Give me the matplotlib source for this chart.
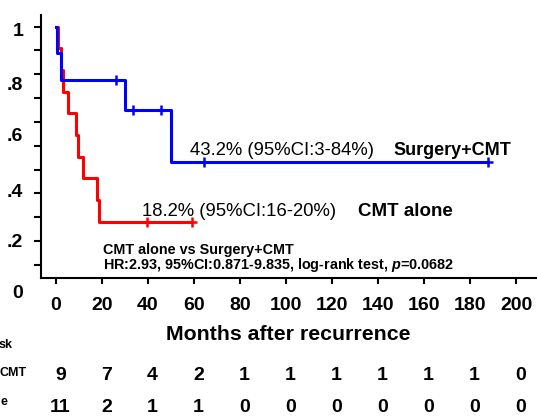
import numpy as np
import matplotlib.pyplot as plt
import matplotlib.transforms as mtransforms

plt.rcParams['font.family'] = 'Liberation Sans'
plt.rcParams['mathtext.fontset'] = 'custom'
plt.rcParams['mathtext.it'] = 'Liberation Sans:italic:bold'
plt.rcParams['mathtext.rm'] = 'Liberation Sans:bold'

# ---------------------------------------------------
# Data (months, 1 = event, 0 = censored)
# ---------------------------------------------------
surg_times = [0.3, 2.2, 26, 30, 33.6, 45.7, 50, 64.3, 187.7]
surg_events = [1, 1, 0, 1, 0, 0, 1, 0, 0]

cmt_times = [1, 2.3, 3.0, 5.3, 8.7, 9.7, 11.9, 18, 18.7, 39.4, 59]
cmt_events = [1, 1, 1, 1, 1, 1, 1, 1, 1, 0, 0]

risk_times = [0, 20, 40, 60, 80, 100, 120, 140, 160, 180, 200]
surg_risk = [9, 7, 4, 2, 1, 1, 1, 1, 1, 1, 0]
cmt_risk = [11, 2, 1, 1, 0, 0, 0, 0, 0, 0, 0]

ytick_vals = ['1', '.8', '.6', '.4', '.2', '0']
ytick_pos = [0.979, 0.755, 0.539, 0.302, 0.094, -0.118]

# row labels of the risk table; only their right ends show in the original
row_labels = ['sk', 'CMT', 'e']


def km_curve(times, events):
    order = np.argsort(times)
    t = np.asarray(times, dtype=float)[order]
    e = np.asarray(events, dtype=float)[order]
    at_risk = len(t) - np.arange(len(t))
    surv = np.cumprod(1 - e / at_risk)
    xs = np.concatenate([[0], t])
    ys = np.concatenate([[1], surv])
    cens = e == 0
    return xs, ys, t[cens], surv[cens]


fig = plt.figure(figsize=(5.37, 4.16), dpi=100)
ax = fig.add_axes([41 / 537, 138 / 416, 496 / 537, 263 / 416])

# CMT alone (red) underneath, Surgery+CMT (blue) on top
for times, events, color in [(cmt_times, cmt_events, '#ff0000'),
                             (surg_times, surg_events, '#0000ff')]:
    xs, ys, cx, cy = km_curve(times, events)
    ax.step(xs, ys, where='post', color=color, lw=2.2)
    ax.plot(cx, cy, ls='none', marker='+', ms=7, mew=1.8, color=color)

ax.set_xlim(-6.5, 209.1)
ax.set_ylim(-0.055, 1.049)

for s in ['top', 'right']:
    ax.spines[s].set_visible(False)
for s in ['left', 'bottom']:
    ax.spines[s].set_linewidth(1.5)

ax.set_xticks(risk_times)
ax.set_xticklabels([str(v) for v in risk_times], fontsize=14, fontweight='bold')
ax.tick_params(axis='x', length=4, width=1.5, pad=9.5)
ax.set_yticks(np.arange(0, 1.01, 0.1))
ax.set_yticklabels([])
ax.tick_params(axis='y', length=5, width=1.5)

# y labels are offset from the tick marks in the original figure
for lab, pos in zip(ytick_vals, ytick_pos):
    ax.text(-0.036, pos, lab, transform=ax.get_yaxis_transform(),
            ha='right', va='center', fontsize=14, fontweight='bold')

ax.set_xlabel('Months after recurrence', fontsize=15.3, fontweight='bold')
ax.xaxis.set_label_coords(0.498, -0.213)
ax.xaxis.label.set_va('center')

# annotations
ax.text(58.3, 0.461, '43.2% (95%CI:3-84%)', fontsize=13.3)
ax.text(146.5, 0.461, 'Surgery+CMT', fontsize=13, fontweight='bold')
ax.text(37.3, 0.205, '18.2% (95%CI:16-20%)', fontsize=13.3)
ax.text(131.3, 0.205, 'CMT alone', fontsize=13.5, fontweight='bold')
ax.text(20.4, 0.045, 'CMT alone vs Surgery+CMT', fontsize=10.4, fontweight='bold')
ax.text(20.4, -0.018, 'HR:2.93, 95%CI:0.871-9.835, log-rank test, $p$=0.0682',
        fontsize=10.4, fontweight='bold')

# numbers at risk
trans = mtransforms.blended_transform_factory(ax.transData, fig.transFigure)
for t, a, b in zip(risk_times, surg_risk, cmt_risk):
    ax.text(t + 2, 1 - 376 / 416, str(a), transform=trans, ha='center',
            va='center', fontsize=14, fontweight='bold', clip_on=False)
    ax.text(t + 2, 1 - 408 / 416, str(b), transform=trans, ha='center',
            va='center', fontsize=14, fontweight='bold', clip_on=False)

for lab, right, yc in zip(row_labels, [13, 27, 7.5], [345, 373, 402]):
    fig.text(right / 537, 1 - yc / 416, lab, ha='right', va='center',
             fontsize=9, fontweight='bold')

fig.savefig('out.png', dpi=100)
